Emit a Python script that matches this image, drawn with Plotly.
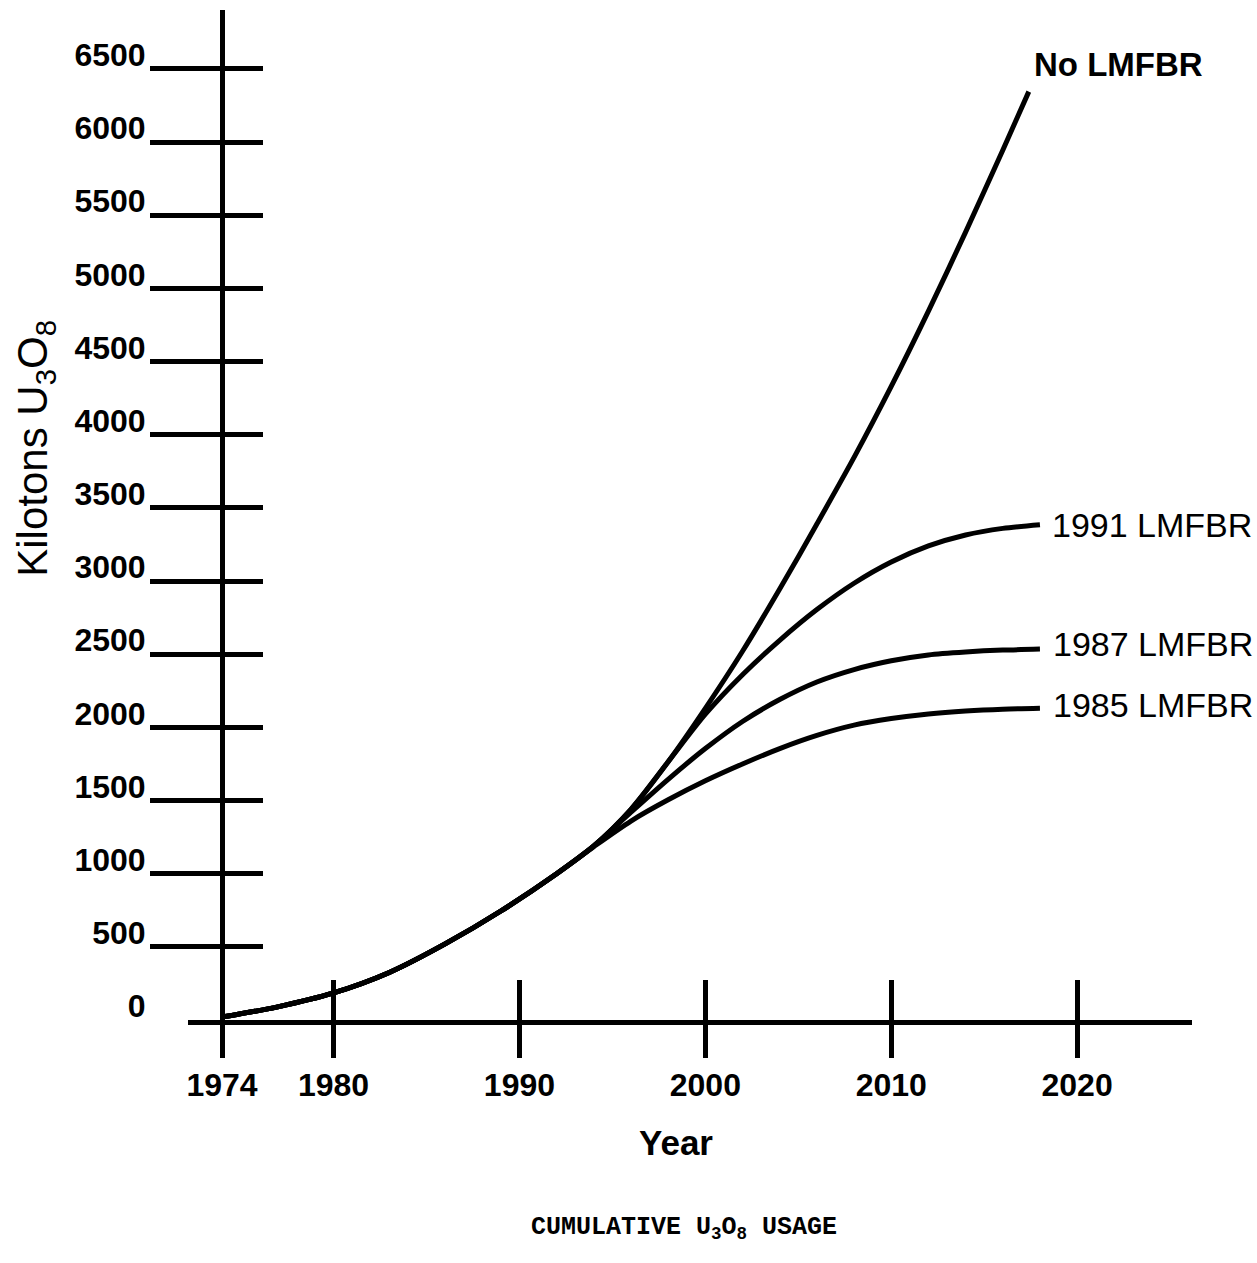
import plotly.graph_objects as go

# ---------------- data ----------------
years_no = [1974, 1977, 1980, 1983, 1986, 1989, 1992, 1994, 1996, 1998, 2000,
            2002, 2004, 2006, 2008, 2010, 2012, 2014, 2016, 2017.4]
no_lmfbr = [20, 90, 185, 325, 520, 745, 1000, 1190, 1440, 1765, 2130,
            2520, 2945, 3390, 3845, 4330, 4845, 5385, 5945, 6345]

years_1991 = [1974, 1977, 1980, 1983, 1986, 1989, 1992, 1994, 1996, 1998, 2000,
              2002, 2004, 2006, 2008, 2010, 2012, 2014, 2016, 2018]
lmfbr_1991 = [20, 90, 185, 325, 520, 745, 1000, 1190, 1440, 1765, 2090,
              2360, 2595, 2805, 2985, 3130, 3240, 3315, 3360, 3385]

years_1987 = [1974, 1977, 1980, 1983, 1986, 1989, 1992, 1994, 1996, 1998, 2000,
              2002, 2004, 2006, 2008, 2010, 2012, 2014, 2016, 2018]
lmfbr_1987 = [20, 90, 185, 325, 520, 745, 1000, 1190, 1420, 1645, 1855,
              2040, 2190, 2310, 2395, 2455, 2495, 2515, 2528, 2535]

years_1985 = [1974, 1977, 1980, 1983, 1986, 1989, 1992, 1994, 1996, 1998, 2000,
              2002, 2004, 2006, 2008, 2010, 2012, 2014, 2016, 2018]
lmfbr_1985 = [20, 90, 185, 325, 520, 745, 1000, 1185, 1360, 1505, 1635,
              1750, 1855, 1945, 2015, 2060, 2092, 2112, 2124, 2130]

series_names = ["No LMFBR", "1991 LMFBR", "1987 LMFBR", "1985 LMFBR"]

y_tick_vals = [0, 500, 1000, 1500, 2000, 2500, 3000, 3500, 4000, 4500,
               5000, 5500, 6000, 6500]
y_tick_text = ["0", "500", "1000", "1500", "2000", "2500", "3000", "3500",
               "4000", "4500", "5000", "5500", "6000", "6500"]
y_mark_vals = y_tick_vals[1:]

x_tick_vals = [1974, 1980, 1990, 2000, 2010, 2020]
x_tick_text = ["1974", "1980", "1990", "2000", "2010", "2020"]

# ---------------- styling ----------------
INK = "#000000"
SANS = "Liberation Sans, Arial, sans-serif"
MONO = "Liberation Mono, Courier New, monospace"
LW = 5

X_RANGE = [1972.17, 2026.18]
Y_RANGE = [0, 6903]
Y_AXIS_POS = 34 / 1004.0

fig = go.Figure()

all_series = [
    (years_no, no_lmfbr),
    (years_1991, lmfbr_1991),
    (years_1987, lmfbr_1987),
    (years_1985, lmfbr_1985),
]
for (xs, ys), name in zip(all_series, series_names):
    fig.add_trace(go.Scatter(
        x=xs, y=ys, mode="lines", name=name,
        line=dict(color=INK, width=LW, shape="spline", smoothing=0.8),
        showlegend=False, hoverinfo="skip",
    ))

# invisible helper traces so that the overlay tick axes get drawn
fig.add_trace(go.Scatter(x=[x_tick_vals[0]], y=[y_tick_vals[0]], xaxis="x2", yaxis="y2",
                         mode="markers", marker=dict(opacity=0), showlegend=False,
                         hoverinfo="skip"))
fig.add_trace(go.Scatter(x=[x_tick_vals[0]], y=[y_tick_vals[0]], xaxis="x", yaxis="y3",
                         mode="markers", marker=dict(opacity=0), showlegend=False,
                         hoverinfo="skip"))

# series labels at the end of each line
label_style = {
    "No LMFBR": (3, 27, "bold"),
    "1991 LMFBR": (10, 0, "normal"),
    "1987 LMFBR": (11, 5, "normal"),
    "1985 LMFBR": (11, 3, "normal"),
}
for (xs, ys), name in zip(all_series, series_names):
    dx, dy, wt = label_style[name]
    fig.add_annotation(
        x=xs[-1], y=ys[-1], xref="x", yref="y", text=name,
        showarrow=False, xanchor="left", yanchor="middle",
        xshift=dx, yshift=dy,
        font=dict(family=SANS, size=33 if wt == "bold" else 34, color=INK, weight=wt),
    )

# axis titles and caption
fig.add_annotation(
    x=-0.152, y=0.566, xref="paper", yref="paper",
    text="Kilotons U<sub>3</sub>O<sub>8</sub>", textangle=-90,
    showarrow=False, xanchor="center", yanchor="middle",
    font=dict(family=SANS, size=42, color=INK),
)
fig.add_annotation(
    x=0.486, y=-0.121, xref="paper", yref="paper", text="Year",
    showarrow=False, xanchor="center", yanchor="middle",
    font=dict(family=SANS, size=35, color=INK, weight="bold"),
)
fig.add_annotation(
    x=0.494, y=-0.206, xref="paper", yref="paper",
    text="CUMULATIVE U<sub>3</sub>O<sub>8</sub> USAGE",
    showarrow=False, xanchor="center", yanchor="middle",
    font=dict(family=MONO, size=25, color=INK, weight="bold"),
)

tickfont = dict(family=SANS, size=32, color=INK, weight="bold")

fig.update_layout(
    width=1257, height=1263,
    margin=dict(l=188, r=65, t=10, b=243),
    paper_bgcolor="white", plot_bgcolor="white",
    showlegend=False,
    xaxis=dict(
        range=X_RANGE, domain=[0, 1], anchor="y",
        showgrid=False, zeroline=False,
        showline=True, linecolor=INK, linewidth=LW,
        tickmode="array", tickvals=x_tick_vals, ticktext=x_tick_text,
        ticks="outside", ticklen=33, tickwidth=LW, tickcolor=INK,
        tickfont=tickfont, ticklabelstandoff=0,
    ),
    xaxis2=dict(
        range=X_RANGE, overlaying="x", anchor="y", side="bottom",
        showgrid=False, zeroline=False, showline=False,
        tickmode="array", tickvals=x_tick_vals, showticklabels=False,
        ticks="inside", ticklen=40, tickwidth=LW, tickcolor=INK,
    ),
    yaxis=dict(
        range=Y_RANGE, domain=[0, 1], anchor="free", position=Y_AXIS_POS,
        showgrid=False, zeroline=False,
        showline=True, linecolor=INK, linewidth=LW,
        tickmode="array", tickvals=y_tick_vals, ticktext=y_tick_text,
        ticks="", tickfont=tickfont,
        ticklabelstandoff=68, ticklabelshift=-14,
    ),
    yaxis2=dict(
        range=Y_RANGE, overlaying="y", anchor="free", position=Y_AXIS_POS,
        side="left", showgrid=False, zeroline=False, showline=False,
        tickmode="array", tickvals=y_mark_vals, showticklabels=False,
        ticks="outside", ticklen=72, tickwidth=LW, tickcolor=INK,
    ),
    yaxis3=dict(
        range=Y_RANGE, overlaying="y", anchor="free", position=Y_AXIS_POS,
        side="left", showgrid=False, zeroline=False, showline=False,
        tickmode="array", tickvals=y_mark_vals, showticklabels=False,
        ticks="inside", ticklen=40, tickwidth=LW, tickcolor=INK,
    ),
)

fig.write_html("out.html", config={"displayModeBar": False},
               post_script="document.body.style.margin='0';")
